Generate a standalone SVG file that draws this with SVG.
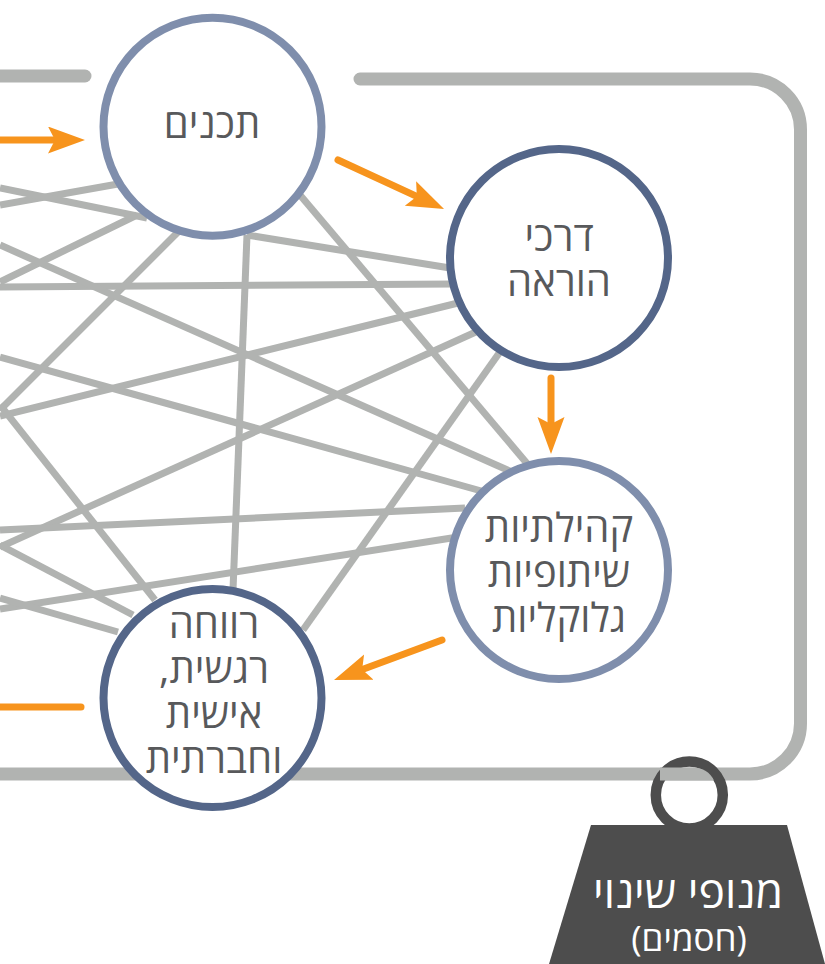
<svg xmlns="http://www.w3.org/2000/svg" width="825" height="964" viewBox="0 0 825 964">
<style>
.c{stroke:#b1b3b1;stroke-width:7;fill:none}
.f{stroke:#b1b3b1;stroke-width:13;fill:none;stroke-linecap:round}
.n{fill:#fff;stroke-width:8}
.a{stroke:#7f8eac}.b{stroke:#546689}
.o{stroke:#f7941d;stroke-width:7;fill:none;stroke-linecap:round}
text{font-family:"Open Sans","Noto Sans",sans-serif;direction:rtl;text-anchor:middle}
.t{font-size:40px;fill:#58595b}
</style>
<defs><marker id="h" markerUnits="userSpaceOnUse" markerWidth="40" markerHeight="30" refX="17" refY="13.5" orient="auto"><path d="M0,0L37,13.5L0,27L7,13.5Z" fill="#f7941d"/></marker></defs>
<g id="frame">
<path class="f" d="M0,76H85"/>
<path class="f" d="M360,79H750A50.500,50.500 0 0 1 800.500,129.500V723.500A50.500,50.500 0 0 1 750,774H-10"/>
</g>
<g id="connectors">
<path class="c" d="M0,205L118,184"/>
<path class="c" d="M0,188L147,218"/>
<path class="c" d="M0,282L137,215"/>
<path class="c" d="M0,410L178,232"/>
<path class="c" d="M247,235L233,590"/>
<path class="c" d="M247,235L450,268"/>
<path class="c" d="M0,287L455,284"/>
<path class="c" d="M300,195L530,467"/>
<path class="c" d="M0,245L512,472"/>
<path class="c" d="M0,357L485,492"/>
<path class="c" d="M0,416L458,303"/>
<path class="c" d="M0,547L478,331"/>
<path class="c" d="M502,349L303,630"/>
<path class="c" d="M0,530L465,508"/>
<path class="c" d="M0,609L458,537"/>
<path class="c" d="M0,405L155,600"/>
<path class="c" d="M0,545L133,615"/>
<path class="c" d="M0,598L118,632"/>
<path class="o" marker-end="url(#h)" d="M-5,140H65"/>
<path class="o" marker-end="url(#h)" d="M338,160L425.900,200.600"/>
<path class="o" marker-end="url(#h)" d="M551,378V434"/>
<path class="o" marker-end="url(#h)" d="M442,640L352.800,673"/>
<path class="o" d="M-5,707H81"/>
</g>
<g id="weight">
<circle cx="689.300" cy="795" r="33.500" fill="none" stroke="#4d4d4d" stroke-width="10.500"/>
<path d="M660,767.500H693Q708,768 714,780.500H660Z" fill="#b1b3b1"/>
<path d="M591,825H787L825,964H549Z" fill="#4d4d4d"/>
<text x="688" y="908" font-size="44.500" fill="#fff">מנופי שינוי</text>
<text x="689" y="951" font-size="35" fill="#fff">(חסמים)</text>
</g>
<g id="node-top"><circle class="n a" cx="212.500" cy="126.700" r="109"/><text class="t" x="212" y="138">תכנים</text></g>
<g id="node-right1"><circle class="n b" cx="559" cy="258" r="109"/><text class="t" x="559" y="251">דרכי</text><text class="t" x="559" y="296">הוראה</text></g>
<g id="node-right2"><circle class="n a" cx="559" cy="570" r="109"/><text class="t" x="559" y="542">קהילתיות</text><text class="t" x="559" y="587">שיתופיות</text><text class="t" x="559" y="632">גלוקליות</text></g>
<g id="node-bottom"><circle class="n b" cx="212.500" cy="698" r="109"/><text class="t" x="214" y="638">רווחה</text><text class="t" x="214" y="683">רגשית,</text><text class="t" x="214" y="728">אישית</text><text class="t" x="214" y="773">וחברתית</text></g>
</svg>
